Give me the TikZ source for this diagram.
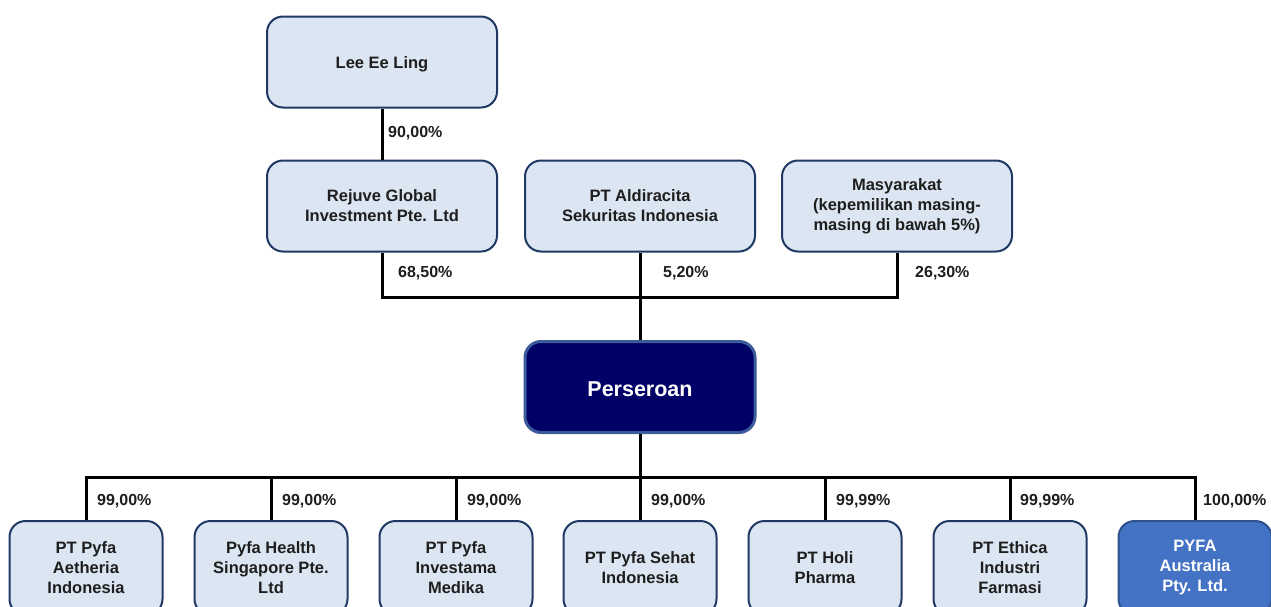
\documentclass[tikz,border=0pt]{standalone}
\usepackage{fontspec}
\setmainfont{Liberation Sans}
\definecolor{boxfill}{HTML}{DCE6F2}
\definecolor{boxborder}{HTML}{1F3864}
\definecolor{persfill}{HTML}{000066}
\definecolor{persborder}{HTML}{3A5A9A}
\definecolor{pyfafill}{HTML}{4472C4}
\definecolor{pyfaborder}{HTML}{2F528F}
\definecolor{textc}{HTML}{1E1E1E}
\newcommand{\lowertext}[1]{\raisebox{-2pt}[\height][\depth]{#1}}
\tikzset{
  box/.style={draw=boxborder, line width=2pt, fill=boxfill, rounded corners=16pt,
    minimum width=230pt, minimum height=91pt, align=center, text=textc,
    font=\bfseries\fontsize{16.5}{20}\selectfont, inner sep=0pt},
  sbox/.style={box, minimum width=153pt, minimum height=94pt},
  persbox/.style={box, draw=persborder, line width=3pt, fill=persfill, text=white,
    font=\bfseries\fontsize{21.5}{25}\selectfont},
  pyfabox/.style={sbox, draw=pyfaborder, fill=pyfafill, text=white},
  conn/.style={line width=3pt, black},
  pct/.style={anchor=west, inner sep=0pt, text=textc, font=\bfseries\fontsize{16}{18}\selectfont}
}
\begin{document}
\begin{tikzpicture}[x=1pt, y=-1pt]
\useasboundingbox (0,0) rectangle (1271,606);
\clip (0,0) rectangle (1271,606);
\fill[white] (0,0) rectangle (1271,606);

\node[box] (lee) at (382,62) {\lowertext{Lee Ee Ling}};
\node[box] (rejuve) at (382,206) {Rejuve Global\\Investment Pte. Ltd};
\node[box] (aldi) at (640,206) {PT Aldiracita\\Sekuritas Indonesia};
\node[box] (masy) at (897,206) {Masyarakat\\(kepemilikan masing-\\masing di bawah 5\%)};
\node[persbox] (pers) at (640,387) {\lowertext{Perseroan}};

\node[sbox] (b1) at (86,568) {PT Pyfa\\Aetheria\\Indonesia};
\node[sbox] (b2) at (271,568) {Pyfa Health\\Singapore Pte.\\Ltd};
\node[sbox] (b3) at (456,568) {PT Pyfa\\Investama\\Medika};
\node[sbox] (b4) at (640,568) {PT Pyfa Sehat\\Indonesia};
\node[sbox] (b5) at (825,568) {PT Holi\\Pharma};
\node[sbox] (b6) at (1010,568) {PT Ethica\\Industri\\Farmasi};
\node[pyfabox] (b7) at (1195,568) {PYFA\\Australia\\Pty. Ltd.};

\coordinate (bus) at (640,297);
\coordinate (bus2) at (640,477);

\draw[conn] (lee.south) -- (rejuve.north);
\draw[conn] (rejuve.south) |- (bus) -| (masy.south);
\draw[conn] (aldi.south) -- (pers.north);
\draw[conn] (pers.south) -- (bus2);
\draw[conn] (b1.north) |- (bus2) -| (b7.north);
\foreach \b in {b2,b3,b4,b5,b6} { \draw[conn] (\b.north) -- (\b.north |- bus2); }

\node[pct] (p0) at (388,133) {90,00\%};
\node[pct] (p1) at (398,273) {68,50\%};
\node[pct] (p2) at (663,273) {5,20\%};
\node[pct] (p3) at (915,273) {26,30\%};
\node[pct] (q1) at (97,501) {99,00\%};
\node[pct] (q2) at (282,501) {99,00\%};
\node[pct] (q3) at (467,501) {99,00\%};
\node[pct] (q4) at (651,501) {99,00\%};
\node[pct] (q5) at (836,501) {99,99\%};
\node[pct] (q6) at (1020,501) {99,99\%};
\node[pct] (q7) at (1203,501) {100,00\%};
\end{tikzpicture}
\end{document}
